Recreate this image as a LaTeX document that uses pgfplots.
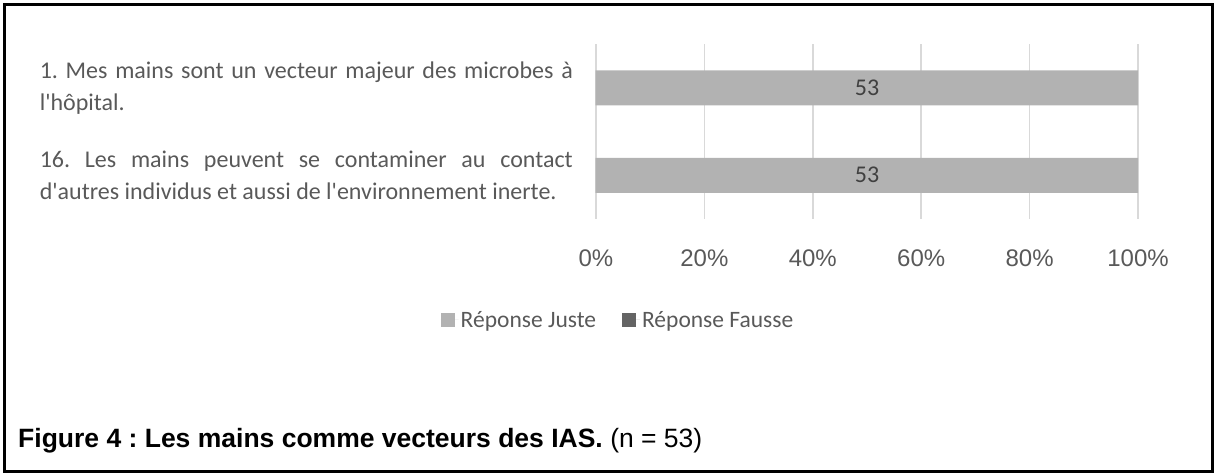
\documentclass[border=0pt]{standalone}
\usepackage{fontspec}
\usepackage{xcolor}
\usepackage{pgfplots}
\pgfplotsset{compat=1.18}
\setmainfont{Carlito}
\newfontfamily\arial{Liberation Sans}
\frenchspacing
\definecolor{txtgray}{HTML}{595959}
\definecolor{gridgray}{HTML}{D9D9D9}
\definecolor{juste}{HTML}{B2B2B2}
\definecolor{fausse}{HTML}{646464}
\definecolor{lblgray}{HTML}{404040}

\begin{document}
\begin{tikzpicture}
\useasboundingbox (0pt,0pt) rectangle (1216pt,-476pt);
\draw[line width=2.6pt] (4.5pt,-4.5pt) rectangle (1212.5pt,-471.5pt);

\begin{axis}[
  at={(596pt,-219pt)}, anchor=south west,
  scale only axis, width=542pt, height=175pt,
  xmin=0, xmax=100, ymin=0.5, ymax=2.5, y dir=reverse,
  xtick={0,20,40,60,80,100},
  xticklabel={\pgfmathprintnumber{\tick}\%},
  ytick={1,2},
  yticklabels={
    {1. Mes mains sont un vecteur majeur des microbes à\linebreak l\textquotesingle hôpital.},
    {16. Les mains peuvent se contaminer au contact\linebreak d\textquotesingle autres individus et aussi de l\textquotesingle environnement inerte.}},
  /pgf/number format/assume math mode=true,
  axis line style={draw=none},
  major tick length=0pt,
  xmajorgrids, grid style={gridgray, line width=1.5pt},
  xticklabel style={font=\arial\fontsize{24}{28}\selectfont, text=txtgray,
    anchor=base, yshift=-47pt},
  yticklabel style={font=\fontsize{24}{32}\selectfont, text=txtgray,
    text width=533pt, align=justify, anchor=east, inner sep=0pt, xshift=-23pt},
  legend style={at={(0.0406,-0.577)}, anchor=center, draw=none, fill=none,
    legend columns=2, font=\fontsize{23.5}{27}\selectfont, text=txtgray,
    /tikz/every even column/.append style={column sep=24pt}},
  legend image code/.code={\fill[#1] (0pt,-7pt) rectangle (14pt,7pt);
    \path (0pt,0pt) -- (18pt,0pt);},
]
\addplot[xbar, bar width=35pt, bar shift=0pt, fill=juste, draw=none]
  coordinates {(100,1) (100,2)};
\addlegendentry{Réponse Juste}
\addplot[xbar, bar width=35pt, bar shift=0pt, fill=fausse, draw=none]
  coordinates {(0,1) (0,2)};
\addlegendentry{Réponse Fausse}
% counts written in the middle of the bars
\addplot[draw=none, mark=none, forget plot, point meta=explicit symbolic,
  nodes near coords,
  nodes near coords style={anchor=center, font=\fontsize{24}{28}\selectfont, text=lblgray}]
  coordinates {(50,1) [53] (50,2) [53]};
\end{axis}

\node[anchor=west, inner sep=0pt, font=\arial\fontsize{26.5}{30}\selectfont]
  at (18pt,-441pt) {\textbf{Figure 4 : Les mains comme vecteurs des IAS.} (n = 53)};
\end{tikzpicture}
\end{document}
